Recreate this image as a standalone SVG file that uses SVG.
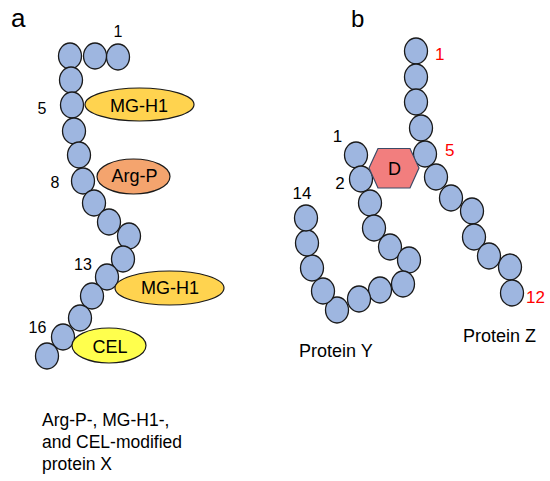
<svg xmlns="http://www.w3.org/2000/svg" width="550" height="481" viewBox="0 0 550 481">
<style>
text{font-family:"Liberation Sans",Arial,sans-serif;fill:#000}
.res{fill:#9EB6E0;stroke:#1a1a1a;stroke-width:1.3}
.mg{fill:#FFD34F;stroke:#1a1a1a;stroke-width:1.2}
.argp{fill:#F4A46E;stroke:#1a1a1a;stroke-width:1.2}
.cel{fill:#FFFF4D;stroke:#1a1a1a;stroke-width:1.2}
.hex{fill:#F27E7E;stroke:#3B4A66;stroke-width:1.2}
.lab{font-size:16px;text-anchor:middle}
.red{font-size:17px;fill:#FF0000}
.mod{font-size:18px;text-anchor:middle}
.cap{font-size:17.5px}
.panel{font-size:26px}
</style>
<rect width="550" height="481" fill="#fff"/>
<g id="panel-a">
<text class="panel" x="11" y="27">a</text>
<g id="proteinX">
<ellipse class="res" cx="118" cy="57" rx="11.5" ry="13"/>
<ellipse class="res" cx="95" cy="56" rx="11.5" ry="13"/>
<ellipse class="res" cx="70" cy="56" rx="11.5" ry="13"/>
<ellipse class="res" cx="71" cy="80" rx="11.5" ry="13"/>
<ellipse class="res" cx="72" cy="105" rx="11.5" ry="13"/>
<ellipse class="res" cx="74" cy="131" rx="11.5" ry="13"/>
<ellipse class="res" cx="79" cy="155" rx="11.5" ry="13"/>
<ellipse class="res" cx="83" cy="181" rx="11.5" ry="13"/>
<ellipse class="res" cx="94" cy="203" rx="11.5" ry="13"/>
<ellipse class="res" cx="109" cy="222" rx="11.5" ry="13"/>
<ellipse class="res" cx="129" cy="236" rx="11.5" ry="13"/>
<ellipse class="res" cx="123" cy="259" rx="11.5" ry="13"/>
<ellipse class="res" cx="107" cy="277" rx="11.5" ry="13"/>
<ellipse class="res" cx="92" cy="296" rx="11.5" ry="13"/>
<ellipse class="res" cx="80" cy="318" rx="11.5" ry="13"/>
<ellipse class="res" cx="63" cy="337" rx="11.5" ry="13"/>
<ellipse class="res" cx="47" cy="356" rx="11.5" ry="13"/>
</g>
<g id="mgh1-top"><ellipse class="mg" cx="139.5" cy="104.5" rx="54.5" ry="16.5"/><text class="mod" x="139" y="112">MG-H1</text></g>
<g id="argp"><ellipse class="argp" cx="133.5" cy="176.5" rx="36.5" ry="17.5"/><text class="mod" x="134.5" y="182">Arg-P</text></g>
<g id="mgh1-bottom"><ellipse class="mg" cx="169.5" cy="288" rx="54.5" ry="17"/><text class="mod" x="170" y="294">MG-H1</text></g>
<g id="cel"><ellipse class="cel" cx="109" cy="345.5" rx="37" ry="17.5"/><text class="mod" x="110" y="353">CEL</text></g>
<text class="lab" x="118" y="37">1</text>
<text class="lab" x="42" y="114">5</text>
<text class="lab" x="55" y="188">8</text>
<text class="lab" x="83" y="270">13</text>
<text class="lab" x="37.5" y="333">16</text>
<text class="cap" x="42" y="426">Arg-P-, MG-H1-,</text>
<text class="cap" x="42" y="448">and CEL-modified</text>
<text class="cap" x="42" y="470">protein X</text>
</g>
<g id="panel-b">
<text class="panel" x="351" y="27" style="font-size:24px">b</text>
<g id="proteinZ">
<ellipse class="res" cx="416" cy="51" rx="11.5" ry="13"/>
<ellipse class="res" cx="416" cy="77" rx="11.5" ry="13"/>
<ellipse class="res" cx="416" cy="102" rx="11.5" ry="13"/>
<ellipse class="res" cx="421" cy="128" rx="11.5" ry="13"/>
<ellipse class="res" cx="425" cy="154" rx="11.5" ry="13"/>
<ellipse class="res" cx="436" cy="177" rx="11.5" ry="13"/>
<ellipse class="res" cx="451" cy="198" rx="11.5" ry="13"/>
<ellipse class="res" cx="472" cy="211" rx="11.5" ry="13"/>
<ellipse class="res" cx="474" cy="237" rx="11.5" ry="13"/>
<ellipse class="res" cx="489" cy="256" rx="11.5" ry="13"/>
<ellipse class="res" cx="510" cy="267" rx="11.5" ry="13"/>
<ellipse class="res" cx="512" cy="293" rx="11.5" ry="13"/>
</g>
<g id="proteinY">
<ellipse class="res" cx="356" cy="155" rx="11.5" ry="13"/>
<ellipse class="res" cx="361" cy="179" rx="11.5" ry="13"/>
<ellipse class="res" cx="370" cy="203" rx="11.5" ry="13"/>
<ellipse class="res" cx="374" cy="228" rx="11.5" ry="13"/>
<ellipse class="res" cx="390" cy="247" rx="11.5" ry="13"/>
<ellipse class="res" cx="409" cy="260" rx="11.5" ry="13"/>
<ellipse class="res" cx="403" cy="284" rx="11.5" ry="13"/>
<ellipse class="res" cx="380" cy="290" rx="11.5" ry="13"/>
<ellipse class="res" cx="359" cy="299" rx="11.5" ry="13"/>
<ellipse class="res" cx="337" cy="310" rx="11.5" ry="13"/>
<ellipse class="res" cx="323" cy="291" rx="11.5" ry="13"/>
<ellipse class="res" cx="312" cy="268" rx="11.5" ry="13"/>
<ellipse class="res" cx="307" cy="243" rx="11.5" ry="13"/>
<ellipse class="res" cx="306" cy="218" rx="11.5" ry="13"/>
</g>
<g id="crosslink-D"><polygon class="hex" points="378,148.5 410,148.5 419,168 410,188 378,188 369,168"/><text class="mod" x="394.5" y="175">D</text></g>
<text class="red" x="435" y="60">1</text>
<text class="red" x="445" y="156">5</text>
<text class="red" x="526" y="303">12</text>
<text class="lab" x="337.5" y="142" style="font-size:17px">1</text>
<text class="lab" x="340" y="189" style="font-size:17px">2</text>
<text class="lab" x="302" y="199" style="font-size:17px">14</text>
<text class="cap" x="299" y="357" style="font-size:18px">Protein Y</text>
<text class="cap" x="463" y="342" style="font-size:18px">Protein Z</text>
</g>
</svg>
